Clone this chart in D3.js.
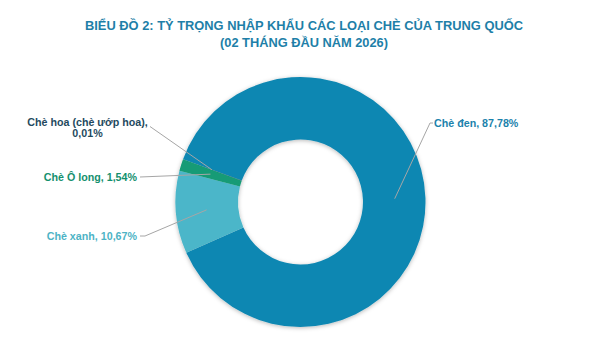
<!DOCTYPE html>
<html>
<head>
<meta charset="utf-8">
<script src="https://cdn.jsdelivr.net/npm/d3@7"></script>
<style>
  html, body { margin: 0; padding: 0; background: #ffffff; }
  svg { display: block; }
</style>
</head>
<body>
<svg id="chart" width="607" height="356"></svg>
<script>
// ---- data ----
const categories = ["Chè đen", "Chè xanh", "Chè Ô long", "Chè hoa (chè ướp hoa)"];
const values = [87.78, 10.67, 1.54, 0.01];
const valueLabels = ["87,78%", "10,67%", "1,54%", "0,01%"];
const colors = ["#0f87b2", "#4bb6c9", "#139b76", "#1f4e63"];
const labelColors = ["#1b82ac", "#4db3c5", "#14906e", "#1f4a5e"];
const titleLines = ["BIỂU ĐỒ 2: TỶ TRỌNG NHẬP KHẨU CÁC LOẠI CHÈ CỦA TRUNG QUỐC", "(02 THÁNG ĐẦU NĂM 2026)"];

// ---- layout ----
const svg = d3.select("#chart");
const W = 607, H = 356;
const cx = 300.5, cy = 202;
const outerR = 125, innerR = 62.5;
const font = "'Liberation Sans', Arial, sans-serif";

// shadow filter
const defs = svg.append("defs");
const f = defs.append("filter").attr("id", "sh").attr("x", "-20%").attr("y", "-20%").attr("width", "140%").attr("height", "140%");
f.append("feDropShadow").attr("dx", 0).attr("dy", 1).attr("stdDeviation", 2.2)
  .attr("flood-color", "#000").attr("flood-opacity", 0.28);

// title
const title = svg.append("g");
const titleWidths = [438, 168];
const titleY = [30, 46.5];
titleLines.forEach((t, i) => {
  title.append("text")
    .attr("x", W / 2 + 0.5).attr("y", titleY[i])
    .attr("text-anchor", "middle")
    .attr("font-family", font).attr("font-weight", "bold").attr("font-size", 13.5)
    .attr("fill", "#1e7fa8")
    .attr("textLength", titleWidths[i]).attr("lengthAdjust", "spacingAndGlyphs")
    .text(t);
});

// pie
const startA = -70 * Math.PI / 180;
const pie = d3.pie().sort(null).value(d => d).startAngle(startA).endAngle(startA + 2 * Math.PI);
const arcs = pie(values);
const arc = d3.arc().innerRadius(innerR).outerRadius(outerR);
const midArc = d3.arc().innerRadius((innerR + outerR) / 2 + 0.5).outerRadius((innerR + outerR) / 2 + 0.5);

const g = svg.append("g").attr("transform", `translate(${cx},${cy})`);
g.append("g").attr("filter", "url(#sh)")
  .selectAll("path").data(arcs).join("path")
  .attr("d", arc)
  .attr("fill", (d, i) => colors[i]);

// labels (positions relative to page)
const labelPos = [
  { x: 434, y: 127, anchor: "start", line: [[430, 123], [433, 123]] },
  { x: 137, y: 240, anchor: "end", line: [[145, 236], [140, 236]] },
  { x: 137, y: 181, anchor: "end", line: [[140, 177]] },
  { x: 87.5, y: 125.5, anchor: "middle", line: [[150, 126.5]], twoLines: true }
];

const lab = svg.append("g");
arcs.forEach((a, i) => {
  const p = labelPos[i];
  const c = midArc.centroid(a);
  const end = [cx + c[0], cy + c[1]];
  const pts = [end].concat(p.line);
  lab.append("path")
    .attr("d", d3.line()(pts))
    .attr("fill", "none").attr("stroke", "#a6a6a6").attr("stroke-width", 1);
  const t = lab.append("text")
    .attr("font-family", font).attr("font-weight", "bold").attr("font-size", 10.7)
    .attr("fill", labelColors[i]).attr("text-anchor", p.anchor);
  if (p.twoLines) {
    t.append("tspan").attr("x", p.x).attr("y", p.y).text(categories[i] + ",");
    t.append("tspan").attr("x", p.x).attr("y", p.y + 11).text(valueLabels[i]);
  } else {
    t.attr("x", p.x).attr("y", p.y).text(categories[i] + ", " + valueLabels[i]);
  }
});
</script>
</body>
</html>
